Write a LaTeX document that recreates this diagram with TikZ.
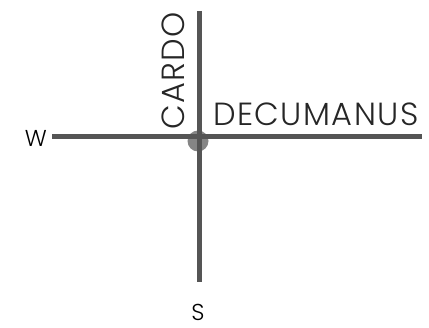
\documentclass[tikz,border=0pt]{standalone}
\usepackage{fontspec}
\setmainfont{Poppins Light}
\begin{document}
\begin{tikzpicture}[x=1pt,y=-1pt,
  road/.style={line width=5pt,draw=roadgray},
  label/.style={inner sep=0pt,text=black,font=\fontsize{23}{23}\selectfont},
  big/.style={inner sep=0pt,text=black!85,font=\fontsize{32}{32}\selectfont\addfontfeatures{LetterSpace=4.5}}]
\definecolor{roadgray}{HTML}{555555}
\definecolor{hubgray}{HTML}{858585}
\useasboundingbox (0,0) rectangle (429,328);
\coordinate (ntop) at (199,11);
\coordinate (sbot) at (199,282);
\coordinate (wend) at (52,137);
\coordinate (eend) at (422,137);
\node[circle,fill=hubgray,minimum size=21pt,inner sep=0pt] (hub) at (198,141) {};
\draw[road] (wend) -- (eend);
\draw[road] (ntop) -- (sbot);
\node[label,anchor=east] (w) at (47,138) {W};
\node[label,anchor=north] (s) at (198,304) {S};
\node[big,anchor=south,rotate=90] (cardo) at (185,71) {CARDO};
\node[big,anchor=south west] (dec) at (213,126) {DECUMANUS};
\end{tikzpicture}
\end{document}
